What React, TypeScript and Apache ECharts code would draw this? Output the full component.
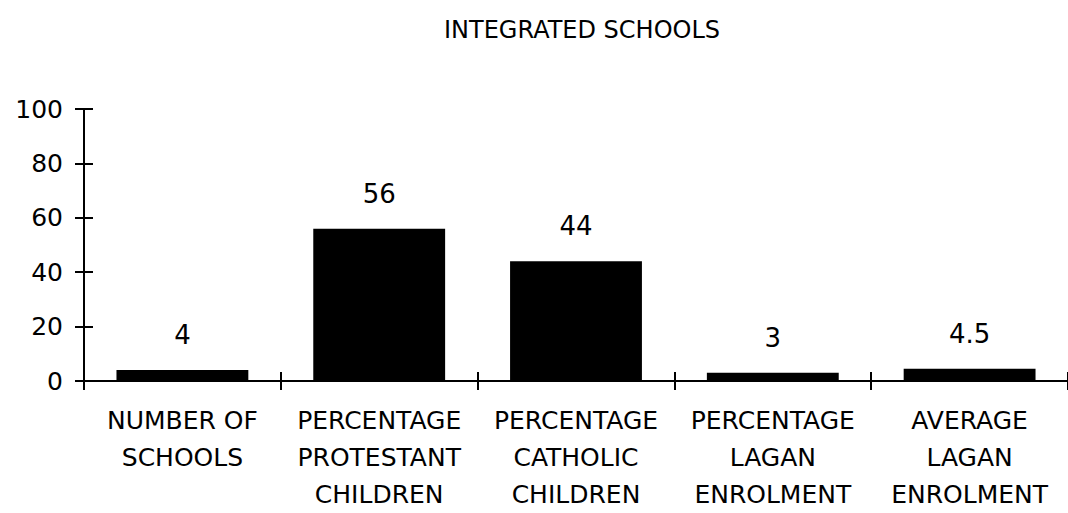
import React, { useEffect, useRef } from "react";
import * as echarts from "echarts";

const title = "INTEGRATED SCHOOLS";
const categories = [
  "NUMBER OF\nSCHOOLS",
  "PERCENTAGE\nPROTESTANT\nCHILDREN",
  "PERCENTAGE\nCATHOLIC\nCHILDREN",
  "PERCENTAGE\nLAGAN\nENROLMENT",
  "AVERAGE\nLAGAN\nENROLMENT",
];
const values = [4, 56, 44, 3, 4.5];
const yMin = 0;
const yMax = 100;
const yInterval = 20;

const FONT = "DejaVu Sans";

export default function App() {
  const ref = useRef<HTMLDivElement>(null);
  useEffect(() => {
    if (!ref.current) return;
    const chart = echarts.init(ref.current, undefined, { renderer: "svg" });
    const lineStyle = { color: "#000", width: 2 };
    chart.setOption({
      animation: false,
      backgroundColor: "#fff",
      title: {
        text: title,
        left: 577,
        top: 13,
        textAlign: "center",
        textStyle: { fontFamily: FONT, fontSize: 24, fontWeight: "normal", color: "#000" },
      },
      grid: { left: 84, right: -5, top: 109, bottom: 129, containLabel: false },
      xAxis: [
        {
          type: "category",
          data: categories,
          position: "bottom",
          axisLine: { show: true, lineStyle },
          axisTick: { show: true, inside: false, length: 9, lineStyle },
          axisLabel: {
            interval: 0,
            margin: 21,
            fontFamily: FONT,
            fontSize: 25,
            lineHeight: 37,
            color: "#000",
          },
        },
        {
          type: "category",
          data: categories,
          position: "bottom",
          axisLine: { show: false },
          axisTick: { show: true, inside: true, length: 9, lineStyle },
          axisLabel: { show: false },
        },
      ],
      yAxis: [
        {
          type: "value",
          min: yMin,
          max: yMax,
          interval: yInterval,
          position: "left",
          axisLine: { show: true, lineStyle },
          axisTick: { show: true, inside: false, length: 9, lineStyle },
          splitLine: { show: false },
          axisLabel: { margin: 21, fontFamily: FONT, fontSize: 25, color: "#000" },
        },
        {
          type: "value",
          min: yMin,
          max: yMax,
          interval: yInterval,
          position: "left",
          axisLine: { show: false },
          axisTick: { show: true, inside: true, length: 9, lineStyle },
          splitLine: { show: false },
          axisLabel: { show: false },
        },
      ],
      series: [
        {
          type: "bar",
          data: values,
          xAxisIndex: 0,
          yAxisIndex: 0,
          barCategoryGap: "33%",
          itemStyle: { color: "#000" },
          label: {
            show: true,
            position: "top",
            distance: 22,
            fontFamily: FONT,
            fontSize: 26,
            color: "#000",
          },
        },
      ],
    });
    return () => chart.dispose();
  }, []);
  return (
    <div
      ref={ref}
      style={{ position: "absolute", left: 0, top: 0, width: 1068, height: 513, background: "#fff" }}
    />
  );
}
